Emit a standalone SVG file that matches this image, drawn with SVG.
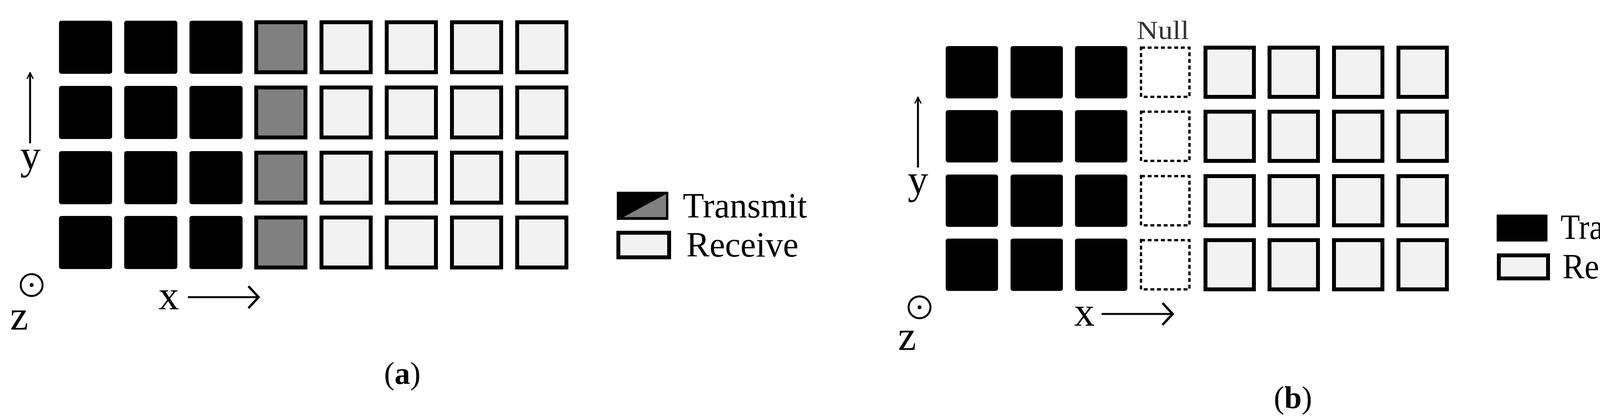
<svg xmlns="http://www.w3.org/2000/svg" width="4311" height="1073" viewBox="0 0 4311 1073">
<style>
text{font-family:"Liberation Serif","Times New Roman",serif;fill:#000}
.tx{fill:#000;stroke:#000;stroke-width:4;stroke-linejoin:round}
.gr{fill:#808080;stroke:#000;stroke-width:10}
.rx{fill:#f2f2f2;stroke:#000;stroke-width:10}
.nl{fill:#fff;stroke:#000;stroke-width:6;stroke-dasharray:10 7}
.ax{stroke:#000;stroke-width:5;fill:none}
.lg{font-size:92px}
.ab{font-size:105px}
.cap{font-size:80px}
</style>
<defs>
<marker id="ah" viewBox="0 0 20 20" refX="18" refY="10" markerWidth="20" markerHeight="20" markerUnits="userSpaceOnUse" orient="auto"><path d="M2,2 L18,10 L2,18" fill="none" stroke="#000" stroke-width="3"/></marker>
<marker id="ah2" viewBox="0 0 60 60" refX="56" refY="30" markerWidth="60" markerHeight="60" markerUnits="userSpaceOnUse" orient="auto"><path d="M30,2 L56,30 L30,58" fill="none" stroke="#000" stroke-width="6"/></marker>
</defs>
<g id="panel-a">
<g id="a-grid">
<rect class="tx" x="153" y="55" width="132" height="132" rx="4"/><rect class="tx" x="320" y="55" width="132" height="132" rx="4"/><rect class="tx" x="487" y="55" width="132" height="132" rx="4"/><rect class="gr" x="656" y="57" width="126" height="128"/><rect class="rx" x="823" y="57" width="126" height="128"/><rect class="rx" x="990" y="57" width="126" height="128"/><rect class="rx" x="1157" y="57" width="126" height="128"/><rect class="rx" x="1324" y="57" width="126" height="128"/>
<rect class="tx" x="153" y="222" width="132" height="132" rx="4"/><rect class="tx" x="320" y="222" width="132" height="132" rx="4"/><rect class="tx" x="487" y="222" width="132" height="132" rx="4"/><rect class="gr" x="656" y="224" width="126" height="128"/><rect class="rx" x="823" y="224" width="126" height="128"/><rect class="rx" x="990" y="224" width="126" height="128"/><rect class="rx" x="1157" y="224" width="126" height="128"/><rect class="rx" x="1324" y="224" width="126" height="128"/>
<rect class="tx" x="153" y="389" width="132" height="132" rx="4"/><rect class="tx" x="320" y="389" width="132" height="132" rx="4"/><rect class="tx" x="487" y="389" width="132" height="132" rx="4"/><rect class="gr" x="656" y="391" width="126" height="128"/><rect class="rx" x="823" y="391" width="126" height="128"/><rect class="rx" x="990" y="391" width="126" height="128"/><rect class="rx" x="1157" y="391" width="126" height="128"/><rect class="rx" x="1324" y="391" width="126" height="128"/>
<rect class="tx" x="153" y="555" width="132" height="132" rx="4"/><rect class="tx" x="320" y="555" width="132" height="132" rx="4"/><rect class="tx" x="487" y="555" width="132" height="132" rx="4"/><rect class="gr" x="656" y="557" width="126" height="128"/><rect class="rx" x="823" y="557" width="126" height="128"/><rect class="rx" x="990" y="557" width="126" height="128"/><rect class="rx" x="1157" y="557" width="126" height="128"/><rect class="rx" x="1324" y="557" width="126" height="128"/>
</g>
<g id="a-legend">
<rect x="1582" y="494" width="126" height="66" fill="#000" stroke="#000" stroke-width="6"/>
<polygon points="1596,556 1705,556 1705,497" fill="#808080"/>
<rect class="rx" x="1583" y="596" width="130" height="63"/>
<text class="lg" x="1748" y="557" textLength="318" lengthAdjust="spacingAndGlyphs">Transmit</text>
<text class="lg" x="1757" y="657" textLength="287" lengthAdjust="spacingAndGlyphs">Receive</text>
</g>
<g id="a-axes">
<line class="ax" x1="77" y1="367" x2="77" y2="186" marker-end="url(#ah)"/>
<text class="ab" x="78" y="432" text-anchor="middle">y</text>
<circle cx="81" cy="730" r="28" fill="none" stroke="#000" stroke-width="5"/><circle cx="81" cy="730" r="5" fill="#000"/>
<text class="ab" x="49" y="844" text-anchor="middle">z</text>
<text class="ab" x="432" y="792" text-anchor="middle">x</text>
<line class="ax" x1="481" y1="761" x2="662" y2="761" marker-end="url(#ah2)"/>
</g>
<text class="cap" x="1030" y="983" text-anchor="middle">(<tspan font-weight="bold">a</tspan>)</text>
</g>
<g id="panel-b">
<g id="b-grid">
<rect class="tx" x="2423" y="120" width="130" height="130" rx="4"/><rect class="tx" x="2589" y="120" width="130" height="130" rx="4"/><rect class="tx" x="2754" y="120" width="130" height="130" rx="4"/><rect class="nl" x="2921" y="122" width="124" height="126"/><rect class="rx" x="3086" y="122" width="124" height="126"/><rect class="rx" x="3250" y="122" width="124" height="126"/><rect class="rx" x="3415" y="122" width="124" height="126"/><rect class="rx" x="3580" y="122" width="124" height="126"/>
<rect class="tx" x="2423" y="284" width="130" height="130" rx="4"/><rect class="tx" x="2589" y="284" width="130" height="130" rx="4"/><rect class="tx" x="2754" y="284" width="130" height="130" rx="4"/><rect class="nl" x="2921" y="286" width="124" height="126"/><rect class="rx" x="3086" y="286" width="124" height="126"/><rect class="rx" x="3250" y="286" width="124" height="126"/><rect class="rx" x="3415" y="286" width="124" height="126"/><rect class="rx" x="3580" y="286" width="124" height="126"/>
<rect class="tx" x="2423" y="449" width="130" height="130" rx="4"/><rect class="tx" x="2589" y="449" width="130" height="130" rx="4"/><rect class="tx" x="2754" y="449" width="130" height="130" rx="4"/><rect class="nl" x="2921" y="451" width="124" height="126"/><rect class="rx" x="3086" y="451" width="124" height="126"/><rect class="rx" x="3250" y="451" width="124" height="126"/><rect class="rx" x="3415" y="451" width="124" height="126"/><rect class="rx" x="3580" y="451" width="124" height="126"/>
<rect class="tx" x="2423" y="613" width="130" height="130" rx="4"/><rect class="tx" x="2589" y="613" width="130" height="130" rx="4"/><rect class="tx" x="2754" y="613" width="130" height="130" rx="4"/><rect class="nl" x="2921" y="615" width="124" height="126"/><rect class="rx" x="3086" y="615" width="124" height="126"/><rect class="rx" x="3250" y="615" width="124" height="126"/><rect class="rx" x="3415" y="615" width="124" height="126"/><rect class="rx" x="3580" y="615" width="124" height="126"/>
</g>
<text x="2977" y="100" text-anchor="middle" font-size="68" textLength="134" lengthAdjust="spacingAndGlyphs" style="fill:#333">Null</text>
<g id="b-legend">
<rect x="3834" y="552" width="125" height="64" fill="#000" stroke="#000" stroke-width="5"/>
<rect class="rx" x="3837" y="654" width="126" height="59"/>
<text class="lg" x="3995" y="612" textLength="290" lengthAdjust="spacingAndGlyphs">Transmit</text>
<text class="lg" x="4000" y="713" textLength="272" lengthAdjust="spacingAndGlyphs">Receive</text>
</g>
<g id="b-axes">
<line class="ax" x1="2350" y1="429" x2="2350" y2="249" marker-end="url(#ah)"/>
<text class="ab" x="2350" y="495" text-anchor="middle">y</text>
<circle cx="2354" cy="787" r="28" fill="none" stroke="#000" stroke-width="5"/><circle cx="2354" cy="787" r="5" fill="#000"/>
<text class="ab" x="2322" y="896" text-anchor="middle">z</text>
<text class="ab" x="2776" y="834" text-anchor="middle">x</text>
<line class="ax" x1="2820" y1="804" x2="3002" y2="804" marker-end="url(#ah2)"/>
</g>
<text class="cap" x="3310" y="1045" text-anchor="middle">(<tspan font-weight="bold">b</tspan>)</text>
</g>
</svg>
